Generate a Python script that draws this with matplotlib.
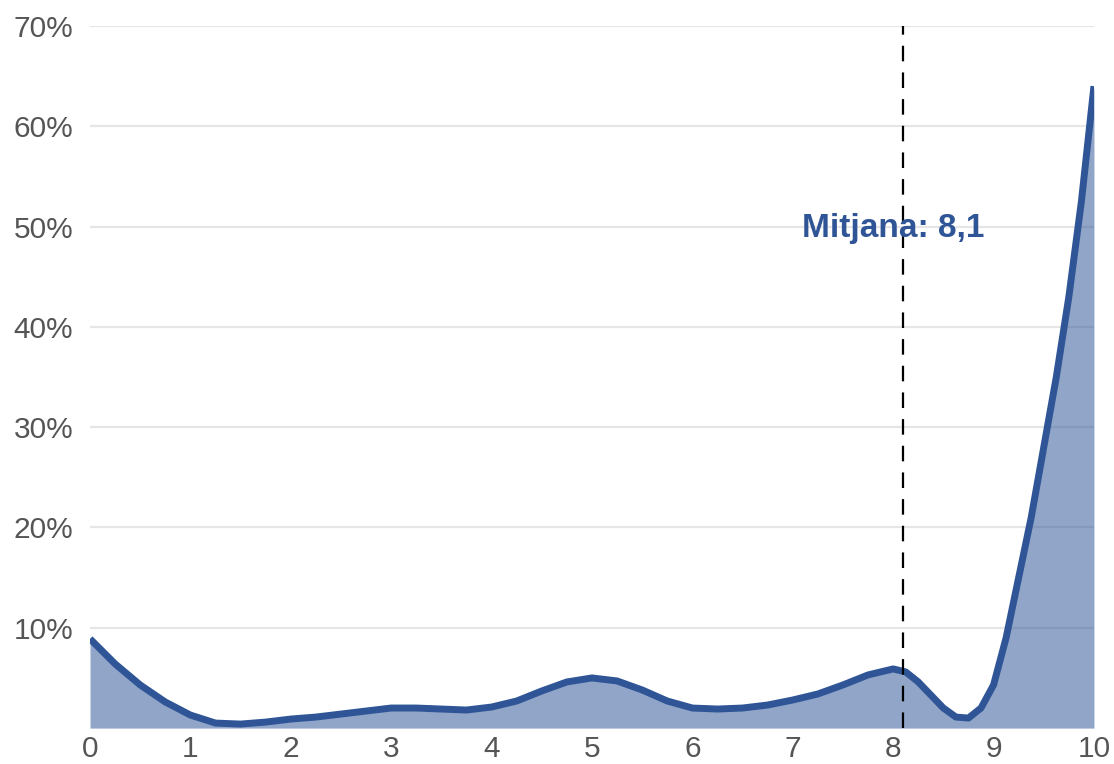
import numpy as np
import matplotlib.pyplot as plt

# distribucio de notes (percentatge per valor de la nota)
notes = [0, 0.25, 0.5, 0.75, 1, 1.25, 1.5, 1.75, 2, 2.25, 2.5, 2.75, 3, 3.25,
         3.5, 3.75, 4, 4.25, 4.5, 4.75, 5, 5.25, 5.5, 5.75, 6, 6.25, 6.5, 6.75,
         7, 7.25, 7.5, 7.75, 8, 8.125, 8.25, 8.375, 8.5, 8.625, 8.75, 8.875,
         9, 9.125, 9.25, 9.375, 9.5, 9.625, 9.75, 9.875, 10]
percent = [8.9, 6.4, 4.3, 2.6, 1.3, 0.5, 0.4, 0.6, 0.9, 1.1, 1.4, 1.7, 2.0, 2.0,
           1.9, 1.8, 2.1, 2.7, 3.7, 4.6, 5.0, 4.7, 3.8, 2.7, 2.0, 1.9, 2.0, 2.3,
           2.8, 3.4, 4.3, 5.3, 5.9, 5.6, 4.6, 3.3, 2.0, 1.1, 1.0, 2.0,
           4.3, 9.0, 15.0, 21.0, 28.0, 35.0, 43.0, 52.5, 64.0]
mitjana = 8.1
mitjana_label = "Mitjana: 8,1"

yticks = [10, 20, 30, 40, 50, 60, 70]
ytick_labels = ["10%", "20%", "30%", "40%", "50%", "60%", "70%"]
xticks = list(range(0, 11))

blau = '#2F5597'
plt.rcParams['font.family'] = ['Liberation Sans', 'DejaVu Sans']

fig = plt.figure(figsize=(11.14, 7.64), dpi=100)
ax = fig.add_axes([0.0808, 0.047, 0.9012, 0.919])

ax.fill_between(notes, percent, 0, color=blau, alpha=0.53, linewidth=0, zorder=2)
ax.plot(notes, percent, color=blau, linewidth=5, solid_capstyle='butt',
        solid_joinstyle='round', zorder=3)

ax.axvline(mitjana, color='black', linestyle=(0, (7, 5)), linewidth=1.6, zorder=4)
ax.text(8.0, 49.8, mitjana_label, ha='center', va='center', fontsize=24,
        fontweight='bold', color=blau, zorder=5)

ax.set_xlim(0, 10)
ax.set_ylim(0, 70)
ax.set_xticks(xticks)
ax.set_yticks(yticks)
ax.set_yticklabels(ytick_labels)
ax.tick_params(axis='both', length=0, labelsize=21.5, labelcolor='#555555')
ax.tick_params(axis='y', pad=12)
ax.tick_params(axis='x', pad=5)
ax.grid(axis='y', color='#e6e6e6', linewidth=1.6, zorder=0)
ax.set_axisbelow(True)
for s in ax.spines.values():
    s.set_visible(False)

plt.savefig('out.png', dpi=100)
